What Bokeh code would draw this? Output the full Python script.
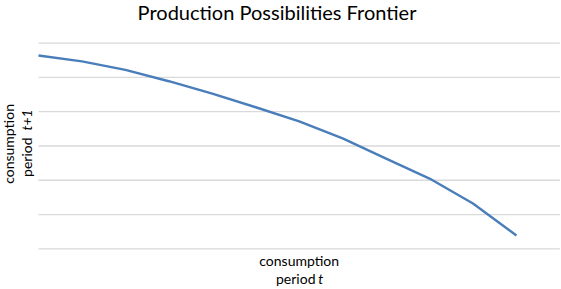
import math
from bokeh.plotting import figure
from bokeh.models import Range1d, Label
from bokeh.embed import file_html
from bokeh.resources import INLINE

# Data
categories = list(range(12))
consumption_t1 = [5.64, 5.47, 5.22, 4.89, 4.53, 4.13, 3.72, 3.22, 2.63, 2.05, 1.32, 0.39]
grid_ticks = [0, 1, 2, 3, 4, 5, 6]
cat_extent = (0, 12)

title_text = "Production Possibilities Frontier"
FONT = "Lato"

p = figure(width=561, height=289, output_backend="svg", toolbar_location=None,
           x_axis_type=None, y_axis_type=None,
           x_range=Range1d(-0.8746, 12.037), y_range=Range1d(-1.1876, 7.2454),
           min_border=0)
p.outline_line_color = None
p.background_fill_color = "white"
p.border_fill_color = "white"
p.xgrid.visible = False
p.ygrid.visible = False

p.segment(x0=[cat_extent[0]] * len(grid_ticks), x1=[cat_extent[1]] * len(grid_ticks),
          y0=grid_ticks, y1=grid_ticks, line_color="#d9d9d9", line_width=1.3)

p.line(categories, consumption_t1, line_color="#4a7ebb", line_width=2.4)

def lab(x, y, text, size, **kw):
    p.add_layout(Label(x=x, y=y, text=text, text_font=FONT, text_font_size=size,
                       text_color="#000000", **kw))

# title
lab(5.49, 6.91, title_text, "20px", text_align="center", text_baseline="alphabetic")
# x axis label
lab(6.0, -0.35, "consumption", "14px", text_align="center", text_baseline="alphabetic")
lab(6.375, -0.87, "period", "14px", text_align="right", text_baseline="alphabetic")
lab(6.44, -0.87, "t", "14px", text_align="left", text_baseline="alphabetic", text_font_style="italic")
# y axis label
lab(-0.68, 3.06, "consumption", "14px", text_align="center", text_baseline="middle", angle=math.pi/2)
lab(-0.27, 3.25, "period", "14px", text_align="right", text_baseline="middle", angle=math.pi/2)
lab(-0.27, 3.45, "t+1", "14px", text_align="left", text_baseline="middle", angle=math.pi/2,
    text_font_style="italic")

open("out.html", "w").write(file_html(p, INLINE))
